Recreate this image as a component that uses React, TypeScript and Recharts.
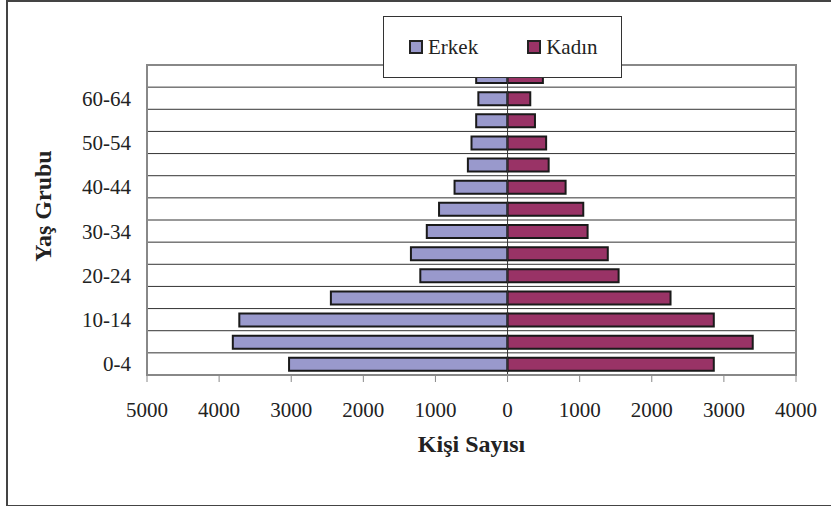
import React from 'react';
import {
  BarChart,
  Bar,
  XAxis,
  YAxis,
  CartesianGrid,
  ReferenceLine,
  ReferenceArea,
  Legend,
} from 'recharts';

const categories = ['0-4', '5-9', '10-14', '15-19', '20-24', '25-29', '30-34', '35-39', '40-44', '45-49', '50-54', '55-59', '60-64', '65+'];
const erkek = [3030, 3810, 3720, 2450, 1210, 1340, 1120, 950, 735, 550, 500, 435, 405, 435];
const kadin = [2860, 3400, 2860, 2260, 1540, 1390, 1110, 1050, 805, 570, 535, 380, 315, 490];
const xTicks = [-5000, -4000, -3000, -2000, -1000, 0, 1000, 2000, 3000, 4000];

const data = categories.map((g, i) => ({ group: g, Erkek: -erkek[i], Kadın: kadin[i] }));

const FONT = '"Liberation Serif", "Times New Roman", serif';
const ERKEK_COLOR = '#9999cc';
const KADIN_COLOR = '#993366';

const LegendBox = () => {
  const items = [
    { name: 'Erkek', color: ERKEK_COLOR },
    { name: 'Kadın', color: KADIN_COLOR },
  ];
  return (
    <div
      style={{
        width: 212,
        height: 60,
        background: '#fff',
        border: '1px solid #333',
        display: 'flex',
        alignItems: 'center',
        paddingLeft: 25,
        boxSizing: 'content-box',
        fontFamily: FONT,
        fontSize: 21,
        color: '#222',
      }}
    >
      {items.map((it, i) => (
        <div key={it.name} style={{ display: 'flex', alignItems: 'center', marginRight: i === 0 ? 49 : 0 }}>
          <span
            style={{
              display: 'inline-block',
              width: 10,
              height: 10,
              background: it.color,
              border: '2px solid #222',
              marginRight: 5,
            }}
          />
          <span>{it.name}</span>
        </div>
      ))}
    </div>
  );
};

const YTitle = ({ viewBox }: any) => {
  const x = viewBox.x + 43;
  const y = viewBox.y + viewBox.height / 2 - 14;
  return (
    <text
      x={x}
      y={y}
      transform={`rotate(-90, ${x}, ${y})`}
      textAnchor="middle"
      dominantBaseline="central"
      style={{ fontSize: 24, fontWeight: 'bold', fill: '#222', fontFamily: FONT }}
    >
      Yaş Grubu
    </text>
  );
};

export default function App() {
  const n = categories.length;
  return (
    <div
      style={{
        position: 'absolute',
        left: 0,
        top: 0,
        width: 831,
        height: 506,
        overflow: 'hidden',
        background: '#fff',
      }}
    >
      <div
        style={{
          position: 'absolute',
          left: 6,
          top: 0,
          width: 900,
          height: 503,
          border: '2px solid #444',
        }}
      />
      <div style={{ position: 'absolute', left: 0, top: 0 }}>
        <BarChart
          width={831}
          height={506}
          data={data}
          layout="vertical"
          stackOffset="sign"
          margin={{ top: 65, right: 35, bottom: 51, left: 0 }}
          style={{ fontFamily: FONT }}
        >
          <CartesianGrid
            vertical={false}
            stroke="#333"
            strokeWidth={1}
            horizontalCoordinatesGenerator={({ offset }: any) => {
              const arr: number[] = [];
              for (let i = 1; i < n; i++) arr.push(offset.top + (i * offset.height) / n);
              return arr;
            }}
          />
          <XAxis
            type="number"
            domain={[-5000, 4000]}
            ticks={xTicks}
            tickFormatter={(v: number) => String(Math.abs(v))}
            axisLine={{ stroke: '#888', strokeWidth: 2 }}
            tickLine={{ stroke: '#888', strokeWidth: 1 }}
            tickSize={7}
            tickMargin={20}
            height={80}
            tick={{ fontSize: 21, fill: '#222', fontFamily: FONT }}
            label={{
              value: 'Kişi Sayısı',
              position: 'insideBottom',
              offset: 3,
              style: { fontSize: 24, fontWeight: 'bold', fill: '#222', fontFamily: FONT },
            }}
          />
          <YAxis
            type="category"
            dataKey="group"
            reversed
            interval={1}
            width={147}
            axisLine={{ stroke: '#888', strokeWidth: 2 }}
            tickLine={false}
            tickMargin={10}
            tick={{ fontSize: 21, fill: '#222', fontFamily: FONT }}
            label={{ content: (props: any) => <YTitle {...props} /> }}
          />
          <Bar dataKey="Erkek" stackId="a" fill={ERKEK_COLOR} stroke="#1a1a1a" strokeWidth={2} barSize={13} isAnimationActive={false} />
          <Bar dataKey="Kadın" stackId="a" fill={KADIN_COLOR} stroke="#1a1a1a" strokeWidth={2} barSize={13} isAnimationActive={false} />
          <ReferenceLine x={0} stroke="#333" strokeWidth={1} />
          <ReferenceArea x1={-5000} x2={4000} fill="none" stroke="#888" strokeWidth={2} />
          <Legend
            layout="vertical"
            align="center"
            verticalAlign="middle"
            content={() => <LegendBox />}
            wrapperStyle={{ position: 'absolute', left: 383, top: 16, width: 'auto', height: 'auto' }}
          />
        </BarChart>
      </div>
    </div>
  );
}
